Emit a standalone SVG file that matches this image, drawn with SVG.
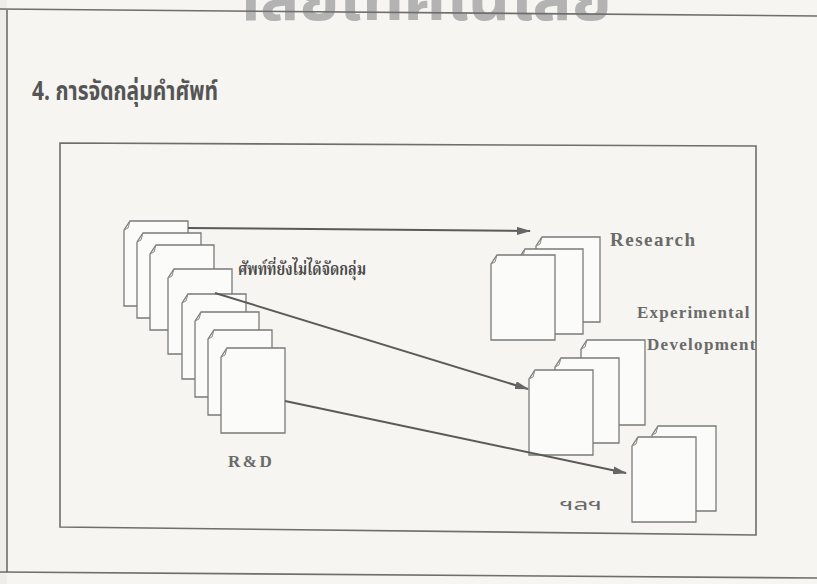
<svg xmlns="http://www.w3.org/2000/svg" width="817" height="584" viewBox="0 0 817 584">
<defs>
<style>
.frame{fill:none;stroke:#6e6e6e;stroke-width:1.6}
.doc{fill:#fbfbf9;stroke:#7a7a7a;stroke-width:1.3}
.fold{fill:none;stroke:#8a8a8a;stroke-width:1}
.conn{fill:none;stroke:#5a5a5a;stroke-width:2}
.lbl{font-family:"Liberation Serif","DejaVu Serif",serif;font-weight:bold;fill:#6a6a6a}
.thai{font-family:"Noto Sans Thai","Loma","Garuda","Tlwg Typo","Noto Sans",sans-serif}
.thaiserif{font-family:"Noto Serif Thai","Norasi","Kinnari","Noto Sans Thai","Noto Sans",serif}
</style>
<marker id="ah" viewBox="0 0 14 8" refX="13" refY="4" markerWidth="14" markerHeight="8" markerUnits="userSpaceOnUse" orient="auto">
<path d="M0,0 L14,4 L0,8 Z" fill="#666"/>
</marker>
<symbol id="d" overflow="visible">
<path class="doc" d="M0,9 L6,0 L64,0 L64,85 L0,85 Z"/>
<path class="fold" d="M6,0 L4,7 L0,9"/>
</symbol>
</defs>
<rect width="817" height="584" fill="#f6f5f1"/>
<rect width="7" height="584" fill="#eeedea"/>
<text class="thai" x="232" y="20" font-size="64" font-weight="bold" fill="#b3b3b3" textLength="380" lengthAdjust="spacingAndGlyphs">าลัยเทคโนโลยี</text>
<path class="frame" d="M0,9 L817,16 M7,9 L7,572 M0,572 L817,578"/>
<text class="thai" x="32" y="100" font-size="26" font-weight="bold" fill="#555" textLength="186" lengthAdjust="spacingAndGlyphs">4. การจัดกลุ่มคำศัพท์</text>
<path class="frame" d="M60,143 L756,146 L756,535 L60,527 Z"/>
<g id="rd-stack">
<use href="#d" x="124" y="221"/>
<use href="#d" x="137" y="233"/>
<use href="#d" x="150" y="245"/>
<use href="#d" x="168" y="269"/>
<use href="#d" x="182" y="294"/>
<use href="#d" x="195" y="312"/>
<use href="#d" x="208" y="330"/>
<use href="#d" x="221" y="348"/>
</g>
<g id="research">
<use href="#d" x="536" y="237"/>
<use href="#d" x="519" y="249"/>
<use href="#d" x="491" y="255"/>
<text class="lbl" x="610" y="246" font-size="19" letter-spacing="1.5">Research</text>
</g>
<g id="experimental-development">
<use href="#d" x="581" y="340"/>
<use href="#d" x="555" y="358"/>
<use href="#d" x="529" y="370"/>
<text class="lbl" x="637" y="318" font-size="17" letter-spacing="1.2">Experimental</text>
<text class="lbl" x="647" y="350" font-size="17" letter-spacing="1.3">Development</text>
</g>
<g id="others">
<use href="#d" x="652" y="426"/>
<use href="#d" x="632" y="437"/>
<text class="thai" x="560" y="510" font-size="16" fill="#6a6a6a" textLength="42" lengthAdjust="spacingAndGlyphs">ฯลฯ</text>
</g>
<g id="connectors">
<line class="conn" x1="188" y1="228" x2="530" y2="231" marker-end="url(#ah)"/>
<line class="conn" x1="215" y1="293" x2="528" y2="389" marker-end="url(#ah)"/>
<line class="conn" x1="285" y1="401" x2="626" y2="473" marker-end="url(#ah)"/>
</g>
<g id="unclassified-label">
<text class="thaiserif" x="238" y="275" font-size="17" font-weight="bold" fill="#4a4a4a" textLength="128" lengthAdjust="spacingAndGlyphs">ศัพท์ที่ยังไม่ได้จัดกลุ่ม</text>
</g>
<g id="rd-label">
<text class="lbl" x="228" y="467" font-size="17" letter-spacing="2.5">R&amp;D</text>
</g>
</svg>
